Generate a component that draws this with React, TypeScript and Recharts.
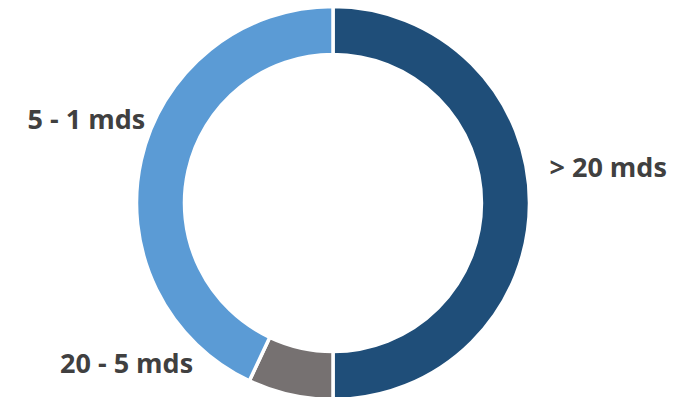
import { PieChart, Pie, Cell } from 'recharts'

const categories = ['> 20 mds', '20 - 5 mds', '5 - 1 mds']
const shares = [50, 7, 43]
const colors = ['#1F4E79', '#767171', '#5B9BD5']

// label placement relative to the slice's outer radial point
const labelOffsets = [
  { dx: 20, dy: -37, anchor: 'start' },
  { dx: -97, dy: -32, anchor: 'end' },
  { dx: 4, dy: -42, anchor: 'end' },
]

const data = categories.map((name, i) => ({ name, value: shares[i] }))

const RAD = Math.PI / 180

function renderLabel(props: any) {
  const { cx, cy, midAngle, outerRadius, index } = props
  const off = labelOffsets[index]
  const x = cx + outerRadius * Math.cos(-midAngle * RAD) + off.dx
  const y = cy + outerRadius * Math.sin(-midAngle * RAD) + off.dy
  return (
    <text
      x={x}
      y={y}
      textAnchor={off.anchor}
      dominantBaseline="central"
      fill="#404040"
      fontSize={27}
      fontWeight={700}
      fontFamily="'Open Sans', sans-serif"
    >
      {data[index].name}
    </text>
  )
}

export default function App() {
  return (
    <div style={{ position: 'absolute', left: 0, top: 0, width: 679, height: 397, background: '#fff' }}>
      <PieChart width={679} height={397}>
        <Pie
          data={data}
          dataKey="value"
          cx={328}
          cy={198}
          innerRadius={148.5}
          outerRadius={196.5}
          startAngle={90}
          endAngle={-270}
          stroke="#fff"
          strokeWidth={3.5}
          label={renderLabel}
          labelLine={false}
          isAnimationActive={false}
        >
          {data.map((d, i) => (
            <Cell key={d.name} fill={colors[i]} />
          ))}
        </Pie>
      </PieChart>
    </div>
  )
}
